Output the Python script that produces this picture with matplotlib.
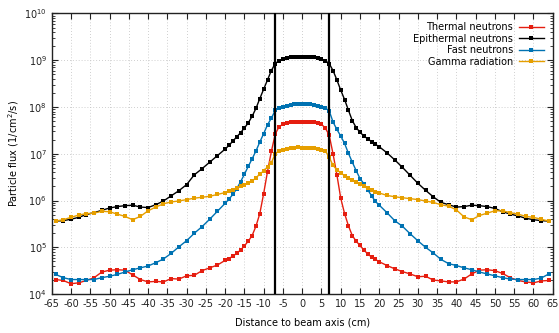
import numpy as np
import matplotlib
matplotlib.use("Agg")
import matplotlib.pyplot as plt
from matplotlib.ticker import LogLocator, FixedLocator, NullFormatter

# distance to beam axis (cm)
x_cm = ([-64, -62, -60, -58, -56, -54, -52, -50, -48, -46, -44, -42, -40, -38, -36, -34,
         -32, -30, -28, -26, -24, -22, -20]
        + list(range(-19, 20))
        + [20, 22, 24, 26, 28, 30, 32, 34, 36, 38, 40, 42, 44, 46, 48, 50, 52, 54, 56, 58,
           60, 62, 64])

# flux values, stored as log10(1/cm^2/s)
thermal_log = [4.31, 4.29, 4.22, 4.24, 4.29, 4.35, 4.47, 4.51, 4.52, 4.51, 4.41, 4.31, 4.26, 4.27, 4.26, 4.33,
               4.32, 4.39, 4.40, 4.50, 4.56, 4.62, 4.72,
               4.76, 4.81, 4.87, 4.94, 5.03, 5.13, 5.25, 5.45, 5.72, 6.15, 6.62, 7.05, 7.42,
               7.58, 7.63, 7.655, 7.67, 7.68, 7.685, 7.685, 7.685, 7.68, 7.67, 7.655, 7.63, 7.55,
               7.40, 7.00, 6.55, 6.05, 5.72, 5.46, 5.25, 5.13, 5.04, 4.94, 4.86, 4.79, 4.74,
               4.69, 4.61, 4.54, 4.48, 4.43, 4.37, 4.38, 4.30, 4.28, 4.26, 4.26, 4.32, 4.43, 4.51,
               4.52, 4.50, 4.44, 4.35, 4.29, 4.26, 4.24, 4.28, 4.29]
epithermal_log = [5.56, 5.57, 5.60, 5.64, 5.70, 5.74, 5.79, 5.84, 5.87, 5.89, 5.90, 5.86, 5.85, 5.91, 5.99, 6.10,
                  6.21, 6.34, 6.55, 6.68, 6.82, 6.96, 7.10,
                  7.18, 7.27, 7.36, 7.45, 7.55, 7.66, 7.80, 7.97, 8.18, 8.38, 8.58, 8.78, 8.93,
                  8.99, 9.03, 9.05, 9.065, 9.07, 9.075, 9.075, 9.075, 9.07, 9.065, 9.05, 9.03, 8.99,
                  8.93, 8.78, 8.58, 8.36, 8.16, 7.93, 7.71, 7.56, 7.46, 7.38, 7.32, 7.26, 7.20,
                  7.15, 7.02, 6.87, 6.71, 6.54, 6.37, 6.22, 6.08, 5.96, 5.91, 5.86, 5.87, 5.90, 5.89,
                  5.87, 5.83, 5.76, 5.71, 5.67, 5.62, 5.59, 5.57, 5.56]
fast_log = [4.42, 4.35, 4.31, 4.31, 4.31, 4.31, 4.35, 4.38, 4.42, 4.47, 4.52, 4.56, 4.60, 4.67, 4.75, 4.87,
            5.01, 5.14, 5.30, 5.44, 5.60, 5.77, 5.94,
            6.03, 6.13, 6.25, 6.40, 6.56, 6.73, 6.89, 7.06, 7.25, 7.43, 7.62, 7.76, 7.93,
            7.98, 8.01, 8.03, 8.045, 8.055, 8.06, 8.06, 8.06, 8.055, 8.045, 8.03, 8.01, 7.98,
            7.92, 7.68, 7.52, 7.38, 7.22, 7.01, 6.82, 6.64, 6.47, 6.36, 6.23, 6.10, 5.98,
            5.90, 5.74, 5.57, 5.45, 5.29, 5.14, 5.00, 4.88, 4.74, 4.65, 4.61, 4.56, 4.52, 4.47,
            4.43, 4.39, 4.35, 4.32, 4.31, 4.31, 4.31, 4.34, 4.43]
gamma_log = [5.56, 5.59, 5.64, 5.69, 5.72, 5.73, 5.77, 5.76, 5.71, 5.66, 5.59, 5.66, 5.78, 5.86, 5.93, 5.97,
             5.99, 6.02, 6.05, 6.07, 6.09, 6.13, 6.17,
             6.20, 6.23, 6.27, 6.30, 6.34, 6.38, 6.42, 6.48, 6.57, 6.63, 6.72, 6.81, 7.00,
             7.06, 7.09, 7.11, 7.12, 7.13, 7.135, 7.13, 7.13, 7.125, 7.12, 7.11, 7.09, 7.06,
             6.93, 6.75, 6.66, 6.59, 6.53, 6.48, 6.44, 6.40, 6.36, 6.31, 6.27, 6.23, 6.19,
             6.16, 6.11, 6.08, 6.06, 6.04, 6.02, 5.99, 5.96, 5.91, 5.88, 5.80, 5.65, 5.59, 5.68,
             5.73, 5.78, 5.78, 5.74, 5.71, 5.66, 5.64, 5.60, 5.56]

series_names = ["Thermal neutrons", "Epithermal neutrons", "Fast neutrons", "Gamma radiation"]
series_logs = [thermal_log, epithermal_log, fast_log, gamma_log]
colors = ["#e51e10", "#000000", "#0072b2", "#e69f00"]

collimator_edges = [-7, 7]
x_ticks = list(range(-65, 66, 5))
x_ticklabels = [str(t) for t in x_ticks]

plt.rcParams["font.family"] = "DejaVu Sans"
plt.rcParams["axes.unicode_minus"] = False

fig = plt.figure(figsize=(5.59, 3.33), dpi=100)
ax = fig.add_axes([0.0925, 0.117, 0.8962, 0.8425])

for name, logs, c in zip(series_names, series_logs, colors):
    flux = 10.0 ** np.array(logs)
    ax.plot(x_cm, flux, color=c, lw=1.0, marker="s", ms=2.8, mew=0, label=name)

for xe in collimator_edges:
    ax.axvline(xe, color="black", lw=1.6, zorder=5)

ax.set_yscale("log")
ax.set_xlim(-65, 65)
ax.set_ylim(1e4, 1e10)
ax.xaxis.set_major_locator(FixedLocator(x_ticks))
ax.set_xticklabels(x_ticklabels)
ax.yaxis.set_major_locator(LogLocator(base=10, numticks=10))
ax.yaxis.set_minor_locator(LogLocator(base=10, subs=np.arange(2, 10), numticks=20))
ax.yaxis.set_minor_formatter(NullFormatter())

ax.tick_params(which="both", direction="in", top=True, right=True, labelsize=7, colors="#222222")
ax.tick_params(which="major", length=4, width=0.8)
ax.tick_params(which="minor", length=2, width=0.6)
ax.grid(True, which="major", color="#c0c0c0", linestyle=(0, (1, 2.5)), lw=0.6)

for s in ax.spines.values():
    s.set_linewidth(1.0)
    s.set_color("#222222")

ax.set_xlabel("Distance to beam axis (cm)", fontsize=7, labelpad=6)
ax.set_ylabel("Particle flux (1/cm$^2$/s)", fontsize=7, labelpad=2)

leg = ax.legend(loc="upper right", frameon=False, fontsize=7, markerfirst=False,
                handlelength=2.6, labelspacing=0.15, borderaxespad=0.5, handletextpad=0.6)

fig.savefig("out.png", dpi=100)
